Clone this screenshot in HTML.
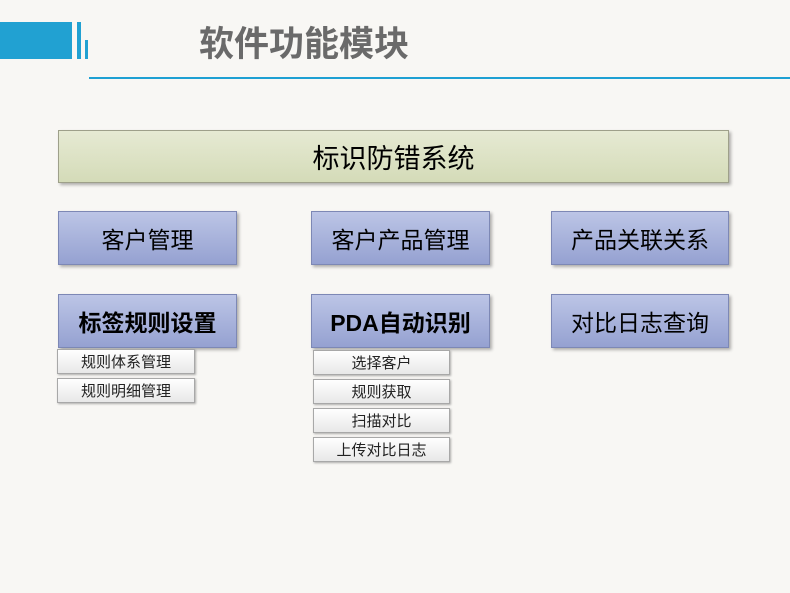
<!DOCTYPE html>
<html><head><meta charset="utf-8"><style>
body{margin:0;width:790px;height:593px;background:#f8f7f4;position:relative;overflow:hidden;font-family:"Liberation Sans","Noto Sans CJK SC",sans-serif}
.a{position:absolute}
.p{position:absolute;background:linear-gradient(#bcc5e6,#95a1d1);border:1px solid #7d88b5;box-shadow:2px 2px 3px rgba(0,0,0,.3);display:flex;align-items:center;justify-content:center;font-size:23px;color:#000;box-sizing:border-box}
.s{position:absolute;background:linear-gradient(#ffffff,#e8e8e8);border:1px solid #a8a8a8;box-shadow:1px 1px 2px rgba(0,0,0,.3);display:flex;align-items:center;justify-content:center;font-size:15px;color:#222;box-sizing:border-box}
</style></head><body>
<div class="a" style="left:0;top:22px;width:72px;height:37px;background:#21a1d2"></div>
<div class="a" style="left:77px;top:22px;width:4px;height:37px;background:#21a1d2"></div>
<div class="a" style="left:85px;top:40px;width:3px;height:19px;background:#21a1d2"></div>
<div class="a" style="left:199px;top:23px;font-size:35px;font-weight:bold;color:#6a6a6a;line-height:44px">软件功能模块</div>
<div class="a" style="left:89px;top:77px;width:701px;height:2px;background:#1ea0d3"></div>
<div class="p" style="left:58px;top:130px;width:671px;height:53px;background:linear-gradient(#e6ead3,#d4dbb8);border-color:#9ea08a;font-size:27px">标识防错系统</div>
<div class="p" style="left:58px;top:211px;width:179px;height:54px">客户管理</div>
<div class="p" style="left:311px;top:211px;width:179px;height:54px">客户产品管理</div>
<div class="p" style="left:551px;top:211px;width:178px;height:54px">产品关联关系</div>
<div class="p" style="left:58px;top:294px;width:179px;height:54px;font-weight:bold">标签规则设置</div>
<div class="p" style="left:311px;top:294px;width:179px;height:54px;font-weight:bold">PDA自动识别</div>
<div class="p" style="left:551px;top:294px;width:178px;height:54px">对比日志查询</div>
<div class="s" style="left:57px;top:349px;width:138px;height:25px">规则体系管理</div>
<div class="s" style="left:57px;top:378px;width:138px;height:25px">规则明细管理</div>
<div class="s" style="left:313px;top:350px;width:137px;height:25px">选择客户</div>
<div class="s" style="left:313px;top:379px;width:137px;height:25px">规则获取</div>
<div class="s" style="left:313px;top:408px;width:137px;height:25px">扫描对比</div>
<div class="s" style="left:313px;top:437px;width:137px;height:25px">上传对比日志</div>
</body></html>
